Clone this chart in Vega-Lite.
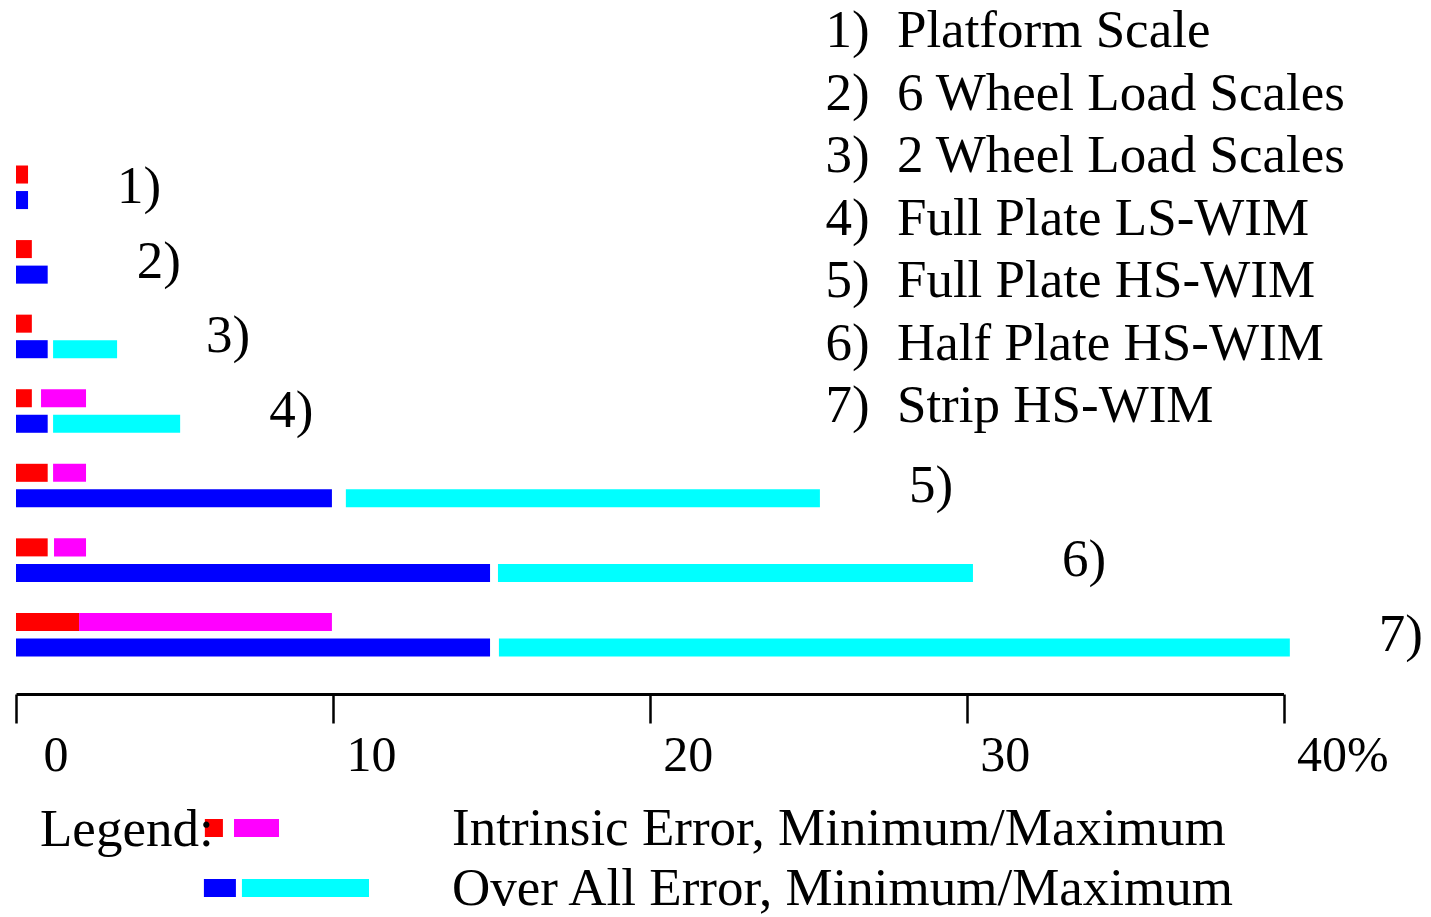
{
  "$schema": "https://vega.github.io/schema/vega-lite/v6.json",
  "autosize": {"type": "none"},
  "width": 1267.5,
  "height": 522,
  "padding": {"left": 16, "top": 150, "right": 147.5, "bottom": 245},
  "background": "white",
  "config": {
    "view": {"stroke": null},
    "text": {"font": "Liberation Serif", "color": "black"},
    "axisX": {
      "domainColor": "black", "domainWidth": 3, "tickColor": "black", "tickWidth": 2.5,
      "tickSize": 29, "grid": false, "labelFont": "Liberation Serif", "labelFontSize": 50,
      "labelColor": "black", "labelAlign": "left", "labelBaseline": "alphabetic",
      "labelPadding": 47, "offset": 22, "labelFlush": false, "labelOverlap": false, "labelBound": false
    }
  },
  "datasets": {
    "bars": [
      {"group": "1", "kind": "Intrinsic", "series": "Intrinsic min", "start": 0, "end": 0.38},
      {"group": "1", "kind": "Overall", "series": "Overall min", "start": 0, "end": 0.38},
      {"group": "2", "kind": "Intrinsic", "series": "Intrinsic min", "start": 0, "end": 0.5},
      {"group": "2", "kind": "Overall", "series": "Overall min", "start": 0, "end": 1.0},
      {"group": "3", "kind": "Intrinsic", "series": "Intrinsic min", "start": 0, "end": 0.5},
      {"group": "3", "kind": "Overall", "series": "Overall min", "start": 0, "end": 1.0},
      {"group": "3", "kind": "Overall", "series": "Overall max", "start": 1.17, "end": 3.19},
      {"group": "4", "kind": "Intrinsic", "series": "Intrinsic min", "start": 0, "end": 0.5},
      {"group": "4", "kind": "Intrinsic", "series": "Intrinsic max", "start": 0.79, "end": 2.21},
      {"group": "4", "kind": "Overall", "series": "Overall min", "start": 0, "end": 1.0},
      {"group": "4", "kind": "Overall", "series": "Overall max", "start": 1.17, "end": 5.18},
      {"group": "5", "kind": "Intrinsic", "series": "Intrinsic min", "start": 0, "end": 1.0},
      {"group": "5", "kind": "Intrinsic", "series": "Intrinsic max", "start": 1.17, "end": 2.21},
      {"group": "5", "kind": "Overall", "series": "Overall min", "start": 0, "end": 9.97},
      {"group": "5", "kind": "Overall", "series": "Overall max", "start": 10.41, "end": 25.37},
      {"group": "6", "kind": "Intrinsic", "series": "Intrinsic min", "start": 0, "end": 1.0},
      {"group": "6", "kind": "Intrinsic", "series": "Intrinsic max", "start": 1.2, "end": 2.21},
      {"group": "6", "kind": "Overall", "series": "Overall min", "start": 0, "end": 14.96},
      {"group": "6", "kind": "Overall", "series": "Overall max", "start": 15.21, "end": 30.2},
      {"group": "7", "kind": "Intrinsic", "series": "Intrinsic min", "start": 0, "end": 1.99},
      {"group": "7", "kind": "Intrinsic", "series": "Intrinsic max", "start": 1.99, "end": 9.97},
      {"group": "7", "kind": "Overall", "series": "Overall min", "start": 0, "end": 14.96},
      {"group": "7", "kind": "Overall", "series": "Overall max", "start": 15.24, "end": 40.2}
    ],
    "list": [
      {"num": "1)", "name": "Platform Scale"},
      {"num": "2)", "name": "6 Wheel Load Scales"},
      {"num": "3)", "name": "2 Wheel Load Scales"},
      {"num": "4)", "name": "Full Plate LS-WIM"},
      {"num": "5)", "name": "Full Plate HS-WIM"},
      {"num": "6)", "name": "Half Plate HS-WIM"},
      {"num": "7)", "name": "Strip HS-WIM"}
    ],
    "legend": [
      {"kind": "Intrinsic", "series": "Intrinsic min", "start": 5.96, "end": 6.53},
      {"kind": "Intrinsic", "series": "Intrinsic max", "start": 6.88, "end": 8.3},
      {"kind": "Overall", "series": "Overall min", "start": 5.93, "end": 6.94},
      {"kind": "Overall", "series": "Overall max", "start": 7.13, "end": 11.14}
    ],
    "legendText": [
      {"kind": "Intrinsic", "text": "Intrinsic Error, Minimum/Maximum"},
      {"kind": "Overall", "text": "Over All Error, Minimum/Maximum"}
    ]
  },
  "resolve": {"scale": {"y": "independent"}},
  "layer": [
    {
      "data": {"name": "bars"},
      "mark": {"type": "bar"},
      "encoding": {
        "x": {
          "field": "start", "type": "quantitative", "title": null,
          "scale": {"domain": [0, 40], "nice": false, "zero": false},
          "axis": {
            "values": [0, 10, 20, 30, 40],
            "labelExpr": "datum.value == 40 ? '40%' : datum.label",
            "labelOffset": {"condition": {"test": "datum.value == 0", "value": 27}, "value": 13}
          }
        },
        "x2": {"field": "end"},
        "y": {"field": "group", "type": "nominal", "axis": null,
              "scale": {"domain": ["1","2","3","4","5","6","7"], "paddingInner": 0, "paddingOuter": 0}},
        "yOffset": {"field": "kind", "type": "nominal",
                    "scale": {"domain": ["Intrinsic", "Overall"], "paddingInner": 0.294, "paddingOuter": 0.607}},
        "color": {"field": "series", "type": "nominal", "legend": null,
                  "scale": {"domain": ["Intrinsic min", "Intrinsic max", "Overall min", "Overall max"],
                            "range": ["#ff0000", "#ff00ff", "#0000ff", "#00ffff"]}}
      }
    },
    {
      "data": {"name": "bars"},
      "transform": [
        {"aggregate": [{"op": "max", "field": "end", "as": "maxEnd"}], "groupby": ["group"]},
        {"calculate": "datum.group + ')'", "as": "label"}
      ],
      "mark": {"type": "text", "align": "left", "baseline": "middle", "dx": 89, "fontSize": 53},
      "encoding": {
        "x": {"field": "maxEnd", "type": "quantitative", "title": null},
        "y": {"field": "group", "type": "nominal", "axis": null,
              "scale": {"domain": ["1","2","3","4","5","6","7"], "paddingInner": 0, "paddingOuter": 0}},
        "text": {"field": "label"}
      }
    },
    {
      "data": {"name": "list"},
      "layer": [
        {
          "mark": {"type": "text", "align": "left", "baseline": "alphabetic", "fontSize": 53},
          "encoding": {
            "x": {"datum": 25.55, "type": "quantitative", "title": null},
            "y": {"field": "num", "type": "nominal", "axis": null,
                  "scale": {"domain": ["1)","2)","3)","4)","5)","6)","7)"], "range": [-134, 303.5], "paddingInner": 0, "paddingOuter": 0}},
            "text": {"field": "num"}
          }
        },
        {
          "mark": {"type": "text", "align": "left", "baseline": "alphabetic", "fontSize": 53},
          "encoding": {
            "x": {"datum": 27.8, "type": "quantitative", "title": null},
            "y": {"field": "num", "type": "nominal", "axis": null,
                  "scale": {"domain": ["1)","2)","3)","4)","5)","6)","7)"], "range": [-134, 303.5], "paddingInner": 0, "paddingOuter": 0}},
            "text": {"field": "name"}
          }
        }
      ]
    },
    {
      "data": {"name": "legend"},
      "mark": {"type": "bar"},
      "encoding": {
        "x": {"field": "start", "type": "quantitative", "title": null},
        "x2": {"field": "end"},
        "y": {"field": "kind", "type": "nominal", "axis": null,
              "scale": {"domain": ["Intrinsic", "Overall"], "range": [648, 768], "paddingInner": 0.7, "paddingOuter": 0.35}},
        "color": {"field": "series", "type": "nominal", "legend": null}
      }
    },
    {
      "data": {"name": "legendText"},
      "mark": {"type": "text", "align": "left", "baseline": "alphabetic", "dy": 17, "fontSize": 53},
      "encoding": {
        "x": {"datum": 13.76, "type": "quantitative", "title": null},
        "y": {"field": "kind", "type": "nominal", "axis": null,
              "scale": {"domain": ["Intrinsic", "Overall"], "range": [648, 768], "paddingInner": 0.7, "paddingOuter": 0.35}},
        "text": {"field": "text"}
      }
    },
    {
      "data": {"values": [{"kind": "Intrinsic", "text": "Legend:"}]},
      "mark": {"type": "text", "align": "left", "baseline": "alphabetic", "dy": 18, "fontSize": 53},
      "encoding": {
        "x": {"datum": 0.757, "type": "quantitative", "title": null},
        "y": {"field": "kind", "type": "nominal", "axis": null,
              "scale": {"domain": ["Intrinsic", "Overall"], "range": [648, 768], "paddingInner": 0.7, "paddingOuter": 0.35}},
        "text": {"field": "text"}
      }
    }
  ]
}
